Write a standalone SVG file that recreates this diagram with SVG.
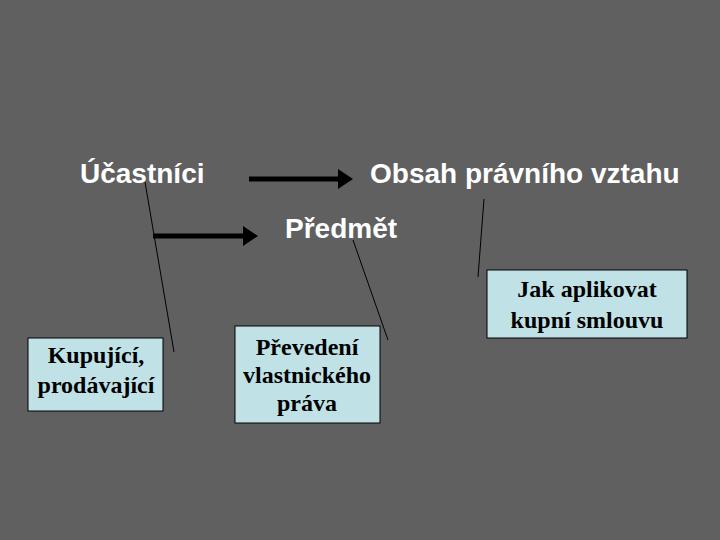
<svg xmlns="http://www.w3.org/2000/svg" width="720" height="540" viewBox="0 0 720 540">
<style>
.h{font-family:"Liberation Sans",Arial,sans-serif;font-weight:bold;font-size:28px;fill:#ffffff}
.b{font-family:"Liberation Serif","Times New Roman",serif;font-weight:bold;font-size:24px;fill:#000000;text-anchor:middle}
.box{fill:#c0e2e6;stroke:#000000;stroke-width:1}
.ln{stroke:#000000;stroke-width:1;fill:none}
.ar{stroke:#000000;stroke-width:5;fill:none}
</style>
<defs>
<marker id="ah" markerWidth="4" markerHeight="4" refX="0" refY="2" orient="auto" markerUnits="strokeWidth" viewBox="0 0 4 4">
<path d="M0,0 L3,2 L0,4 z" fill="#000000"/>
</marker>
</defs>
<rect width="720" height="540" fill="#606060"/>
<g id="ucastnici"><text class="h" x="80" y="183">Účastníci</text></g>
<g id="obsah"><text class="h" x="370" y="183">Obsah právního vztahu</text></g>
<g id="predmet"><text class="h" x="285" y="238">Předmět</text></g>
<g id="kupujici"><rect class="box" x="28" y="338" width="135" height="73"/>
<text class="b" x="96" y="363">Kupující,</text><text class="b" x="96" y="393">prodávající</text></g>
<g id="prevedeni"><rect class="box" x="235" y="326" width="145" height="97"/>
<text class="b" x="307" y="355">Převedení</text><text class="b" x="307" y="383">vlastnického</text><text class="b" x="307" y="411">práva</text></g>
<g id="jak"><rect class="box" x="487" y="270" width="200" height="68"/>
<text class="b" x="587" y="297">Jak aplikovat</text><text class="b" x="587" y="328">kupní smlouvu</text></g>
<g id="connectors">
<line class="ar" x1="249" y1="179" x2="338" y2="179" marker-end="url(#ah)"/>
<line class="ar" x1="153" y1="236" x2="243" y2="236" marker-end="url(#ah)"/>
<line class="ln" x1="145" y1="182" x2="174" y2="352"/>
<line class="ln" x1="353" y1="240" x2="388" y2="340"/>
<line class="ln" x1="484" y1="199" x2="478" y2="277"/>
</g>
</svg>
